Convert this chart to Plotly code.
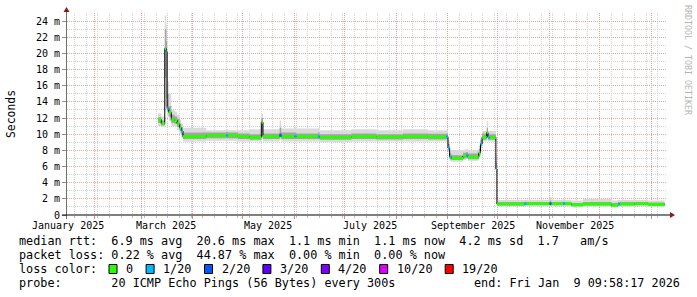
import plotly.graph_objects as go
from datetime import datetime, timedelta

# ---------------- data ----------------
dates = [
    "2025-03-11 00:00", "2025-03-13 00:00", "2025-03-15 02:00", "2025-03-16 00:00",
    "2025-03-16 12:00", "2025-03-17 12:00", "2025-03-19 00:00", "2025-03-21 00:00",
    "2025-03-22 12:00", "2025-03-24 00:00", "2025-03-25 00:00", "2025-03-26 00:00",
    "2025-04-09 00:00", "2025-04-21 00:00", "2025-04-22 00:00", "2025-04-28 00:00",
    "2025-05-05 00:00", "2025-05-12 00:00", "2025-05-13 00:00", "2025-05-23 00:00",
    "2025-05-24 00:00", "2025-06-01 00:00", "2025-06-02 00:00", "2025-06-15 00:00",
    "2025-06-16 00:00", "2025-07-05 00:00", "2025-07-20 00:00", "2025-08-05 00:00",
    "2025-08-20 00:00", "2025-08-31 00:00", "2025-09-01 00:00", "2025-09-02 00:00",
    "2025-09-03 00:00", "2025-09-10 00:00", "2025-09-12 00:00", "2025-09-13 00:00",
    "2025-09-19 12:00", "2025-09-20 12:00", "2025-09-21 12:00", "2025-09-24 06:00",
    "2025-09-25 00:00", "2025-09-26 00:00", "2025-09-29 18:00", "2025-09-30 09:00",
    "2025-10-17 00:00", "2025-10-18 00:00", "2025-11-01 00:00", "2025-11-02 00:00",
    "2025-11-09 00:00", "2025-11-10 00:00", "2025-11-14 00:00", "2025-11-21 00:00",
    "2025-12-08 00:00", "2025-12-12 00:00", "2025-12-13 00:00", "2025-12-22 00:00",
    "2025-12-30 00:00", "2026-01-09 00:00",
]
# median rtt in milliseconds
median_ms = [
    11.8, 11.3, 20.6, 20.2, 13.2, 12.7, 11.8, 11.7, 11.3, 10.8, 10.4, 9.7,
    9.85, 9.85, 9.85, 9.7, 9.6, 11.5, 9.7, 9.9, 9.7, 9.75, 9.7, 9.7,
    9.6, 9.7, 9.65, 9.7, 9.65, 9.7, 8.3, 7.2, 7.0, 7.3, 7.4, 7.15,
    7.7, 8.8, 9.6, 10.2, 9.6, 9.6, 5.7, 1.35, 1.4, 1.4, 1.4, 1.4,
    1.4, 1.4, 1.25, 1.35, 1.2, 1.35, 1.35, 1.4, 1.3, 1.3,
]
# lost pings out of 20
loss = [
    0, 0, 0, 1, 1, 0, 0, 0, 0, 0, 1, 0,
    0, 1, 0, 0, 0, 0, 0, 2, 0, 1, 0, 1,
    0, 0, 0, 0, 0, 1, 1, 1, 0, 0, 1, 0,
    0, 1, 0, 0, 1, 0, 1, 0, 1, 0, 2, 0,
    1, 0, 0, 0, 0, 1, 0, 0, 0, 0,
]
smoke_min = [
    11.0, 10.9, 13.5, 12.8, 12.2, 11.6, 11.0, 10.9, 10.5, 10.0, 9.5, 9.1,
    9.2, 9.2, 9.2, 9.1, 9.1, 9.4, 9.1, 9.3, 9.1, 9.1, 9.1, 9.1,
    9.0, 9.1, 9.1, 9.1, 9.1, 9.1, 7.8, 6.7, 6.6, 6.8, 6.9, 6.7,
    7.2, 8.2, 9.1, 9.3, 9.1, 9.1, 5.2, 1.1, 1.1, 1.1, 1.1, 1.1,
    1.1, 1.1, 1.0, 1.05, 1.0, 1.05, 1.05, 1.1, 1.05, 1.05,
]
smoke_lo = [
    11.4, 11.1, 17.0, 14.5, 12.8, 12.2, 11.4, 11.3, 10.9, 10.4, 9.9, 9.4,
    9.5, 9.5, 9.5, 9.4, 9.3, 10.0, 9.4, 9.6, 9.4, 9.4, 9.4, 9.4,
    9.3, 9.4, 9.35, 9.4, 9.35, 9.4, 8.0, 6.9, 6.8, 7.0, 7.1, 6.9,
    7.4, 8.5, 9.3, 9.7, 9.3, 9.3, 5.5, 1.2, 1.25, 1.25, 1.25, 1.25,
    1.25, 1.25, 1.1, 1.2, 1.1, 1.2, 1.2, 1.25, 1.15, 1.15,
]
smoke_hi = [
    12.1, 11.7, 23.0, 21.5, 15.0, 13.5, 12.4, 12.2, 11.9, 11.3, 10.9, 10.2,
    10.2, 10.3, 10.2, 10.1, 10.0, 12.0, 10.1, 10.8, 10.2, 10.2, 10.1, 10.2,
    10.0, 10.1, 10.0, 10.1, 10.05, 10.1, 8.8, 7.6, 7.4, 7.7, 7.8, 7.6,
    8.2, 9.3, 10.1, 10.8, 10.0, 10.0, 6.5, 1.6, 1.65, 1.6, 1.8, 1.6,
    1.65, 1.6, 1.5, 1.6, 1.5, 1.6, 1.6, 1.6, 1.55, 1.55,
]
smoke_max = [
    12.6, 12.2, 24.7, 23.5, 16.5, 15.0, 13.0, 12.8, 12.4, 11.8, 11.3, 10.8,
    10.5, 10.6, 10.5, 10.5, 10.6, 12.5, 10.6, 11.7, 10.7, 10.8, 10.7, 10.8,
    10.5, 10.6, 10.5, 10.6, 10.5, 10.5, 9.3, 8.0, 8.0, 8.1, 8.2, 8.0,
    8.6, 9.7, 10.4, 11.6, 10.4, 10.4, 7.5, 1.85, 1.9, 1.9, 2.2, 1.9,
    1.95, 1.9, 1.8, 2.0, 1.8, 1.9, 1.85, 1.85, 1.8, 1.8,
]

loss_levels = [0, 1, 2, 3, 4, 10, 19]
loss_labels = ["0", "1/20", "2/20", "3/20", "4/20", "10/20", "19/20"]
loss_colors = ["#26ff00", "#00b8ff", "#0059ff", "#5e00ff", "#7e00ff", "#dd00ff", "#ff0000"]

label_months = ["2025-01", "2025-03", "2025-05", "2025-07", "2025-09", "2025-11"]
x_tick_labels = ["January 2025", "March 2025", "May 2025", "July 2025",
                 "September 2025", "November 2025"]
y_tick_values = list(range(0, 25, 2))

rtt_line = "median rtt:  6.9 ms avg  20.6 ms max  1.1 ms min  1.1 ms now  4.2 ms sd  1.7   am/s"
loss_line = "packet loss: 0.22 % avg  44.87 % max  0.00 % min  0.00 % now"
color_title = "loss color:"
probe_line = "probe:       20 ICMP Echo Pings (56 Bytes) every 300s"
end_line = "end: Fri Jan  9 09:58:17 2026"

x_start = "2025-01-15 10:00"
x_end = "2026-01-10 10:00"

# ---------------- layout helpers ----------------
W_FIG, H_FIG = 697, 297
L, T, PW, PH = 67, 13, 600, 202
MONO = "DejaVu Sans Mono"


def px(xp):
    return (xp - L) / PW


def py(yp):
    return (T + PH - yp) / PH


def nb(s):
    return s.replace(" ", "\u00a0")


fig = go.Figure()

# smoke (outer, then inner)
fig.add_trace(go.Scatter(x=dates, y=smoke_min, mode="lines", line=dict(width=0, shape="hv"),
                         hoverinfo="skip", showlegend=False))
fig.add_trace(go.Scatter(x=dates, y=smoke_max, mode="lines", line=dict(width=0, shape="hv"),
                         fill="tonexty", fillcolor="#dadada", hoverinfo="skip", showlegend=False))
fig.add_trace(go.Scatter(x=dates, y=smoke_lo, mode="lines", line=dict(width=0, shape="hv"),
                         hoverinfo="skip", showlegend=False))
fig.add_trace(go.Scatter(x=dates, y=smoke_hi, mode="lines", line=dict(width=0, shape="hv"),
                         fill="tonexty", fillcolor="#a4a4a4", hoverinfo="skip", showlegend=False))

# median line (thin dark)
fig.add_trace(go.Scatter(x=dates, y=median_ms, mode="lines",
                         line=dict(width=1, color="#000000", shape="hv"),
                         hoverinfo="skip", showlegend=False))

# loss-coloured median segments
for lvl, col in zip(loss_levels, loss_colors):
    xs, ys = [], []
    for i in range(len(dates) - 1):
        if loss[i] == lvl:
            xs += [dates[i], dates[i + 1], None]
            ys += [median_ms[i], median_ms[i], None]
    if xs:
        fig.add_trace(go.Scatter(x=xs, y=ys, mode="lines",
                                 line=dict(width=3, color=col),
                                 hoverinfo="skip", showlegend=False))

annotations = []
shapes = []

# x labels centred in mid-month
for m, lab in zip(label_months, x_tick_labels):
    mid = datetime.strptime(m + "-01", "%Y-%m-%d") + timedelta(days=15)
    annotations.append(dict(x=mid.strftime("%Y-%m-%d"), xref="x", y=py(225.5), yref="paper",
                            text=nb(lab), showarrow=False, xanchor="center", yanchor="middle",
                            font=dict(family=MONO, size=10, color="#000000")))

# y title
annotations.append(dict(x=px(11), xref="paper", y=py(114), yref="paper", text="Seconds",
                        textangle=-90, showarrow=False, xanchor="center", yanchor="middle",
                        font=dict(family=MONO, size=11.4, color="#000000")))

# watermark
annotations.append(dict(x=px(688), xref="paper", y=py(60), yref="paper",
                        text=nb("RRDTOOL / TOBI OETIKER"), textangle=90, showarrow=False,
                        xanchor="center", yanchor="middle",
                        font=dict(family=MONO, size=8.3, color="#b4b4b4")))

# legend rows
LEG = dict(family=MONO, size=11.8, color="#000000")
CW = 7.1
for txt, yy in [(rtt_line, 241), (loss_line, 255), (color_title, 269), (probe_line, 283)]:
    annotations.append(dict(x=px(16.5), xref="paper", y=py(yy), yref="paper", text=nb(txt),
                            showarrow=False, xanchor="left", yanchor="middle", font=LEG))
annotations.append(dict(x=px(681.5), xref="paper", y=py(283), yref="paper", text=nb(end_line),
                        showarrow=False, xanchor="right", yanchor="middle", font=LEG))

bx = 109.0
for lab, col in zip(loss_labels, loss_colors):
    shapes.append(dict(type="rect", xref="paper", yref="paper",
                       x0=px(bx), x1=px(bx + 8), y0=py(273.5), y1=py(264.5),
                       fillcolor=col, line=dict(color="#000000", width=1)))
    annotations.append(dict(x=px(bx + 15), xref="paper", y=py(269), yref="paper", text=lab,
                            showarrow=False, xanchor="left", yanchor="middle", font=LEG))
    bx = bx + 15 + len(lab) * CW + 15

# axis lines and arrows
shapes.append(dict(type="line", xref="paper", yref="paper", x0=px(66.5), x1=px(66.5),
                   y0=py(219), y1=py(12), line=dict(color="#707070", width=1)))
shapes.append(dict(type="line", xref="paper", yref="paper", x0=px(62), x1=px(671),
                   y0=py(215), y1=py(215), line=dict(color="#000000", width=1.2)))
shapes.append(dict(type="path", xref="paper", yref="paper",
                   path=f"M {px(63.5)} {py(12)} L {px(69.5)} {py(12)} L {px(66.5)} {py(7)} Z",
                   fillcolor="#8b1a1a", line=dict(width=0)))
shapes.append(dict(type="path", xref="paper", yref="paper",
                   path=f"M {px(670)} {py(212)} L {px(670)} {py(218)} L {px(675)} {py(215)} Z",
                   fillcolor="#8b1a1a", line=dict(width=0)))

fig.update_layout(
    width=W_FIG, height=H_FIG,
    margin=dict(l=L, r=W_FIG - L - PW, t=T, b=H_FIG - T - PH, pad=0),
    paper_bgcolor="#ffffff", plot_bgcolor="#ffffff",
    showlegend=False,
    annotations=annotations, shapes=shapes,
    xaxis=dict(
        type="date", range=[x_start, x_end], fixedrange=True,
        tickmode="linear", tick0="2025-02-01", dtick="M1",
        showticklabels=False, ticks="outside", ticklen=3, tickcolor="#d08a8a",
        showgrid=True, gridcolor="#e3a3a3", griddash="1px,1px", gridwidth=1,
        zeroline=False, showline=False,
        minor=dict(tickmode="linear", tick0="2025-01-20", dtick=7 * 86400000,
                   showgrid=True, gridcolor="#d2d2d2", griddash="1px,1px",
                   ticks="outside", ticklen=2, tickcolor="#bbbbbb"),
    ),
    yaxis=dict(
        range=[0, 25], fixedrange=True,
        tickmode="array", tickvals=y_tick_values,
        ticktext=["0" if v == 0 else f"{v} m" for v in y_tick_values],
        tickfont=dict(family=MONO, size=10, color="#000000"),
        ticks="outside", ticklen=4, tickcolor="#909090",
        showgrid=True, gridcolor="#e3a3a3", griddash="1px,1px", gridwidth=1,
        zeroline=False, showline=False,
        minor=dict(tickmode="linear", tick0=0, dtick=1, showgrid=True,
                   gridcolor="#d2d2d2", griddash="1px,1px"),
    ),
)

fig.write_html("out.html")
